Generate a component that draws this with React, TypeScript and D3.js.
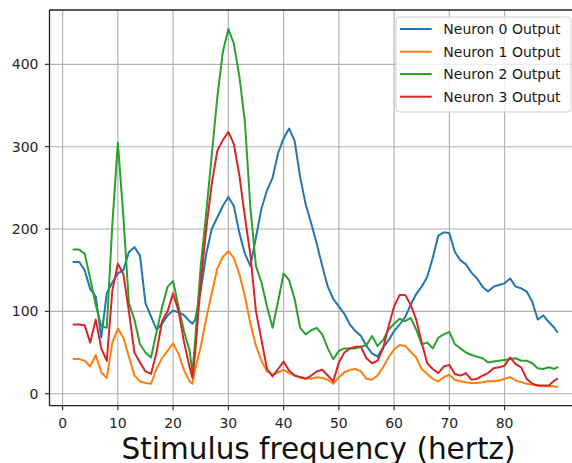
import React from "react";
import * as d3 from "d3";

// Stimulus frequencies (Hz) at which the neuron outputs were sampled
const freqs = [
  2, 3, 4, 5, 6, 7, 8, 9, 10, 11, 12, 13, 14, 15, 16, 17, 18, 19, 20, 21, 22, 23, 23.5,
  24, 25, 26, 27, 28, 29, 30, 31, 32, 33, 34, 35, 36, 37, 38, 39, 40, 41, 42, 43, 44,
  45, 46, 47, 48, 49, 50, 51, 52, 53, 54, 55, 56, 57, 58, 59, 60, 61, 62, 63, 64, 65,
  66, 67, 68, 69, 70, 71, 72, 73, 74, 75, 76, 77, 78, 79, 80, 81, 82, 83, 84, 85, 86,
  87, 88, 89, 89.5,
];

const neuron0 = [
  160, 160, 150, 127, 118, 68, 122, 135, 146, 150, 172, 178, 168, 110, 94, 78, 85, 95, 101, 99, 95, 88, 85,
  90, 125, 170, 200, 214, 228, 239, 228, 195, 170, 155, 190, 225, 247, 262, 292, 310, 322, 307, 263, 230,
  207, 182, 155, 130, 115, 106, 97, 84, 76, 70, 58, 49, 45, 56, 65, 76, 84, 93, 108, 121, 130,
  142, 165, 192, 196, 195, 172, 162, 157, 147, 140, 130, 124, 130, 132, 134, 140, 130, 128, 124, 112, 90,
  95, 87, 80, 75,
];

const neuron1 = [
  42, 42, 40, 33, 47, 26, 19, 62, 79, 68, 45, 22, 15, 13, 12, 30, 43, 52, 61, 48, 28, 15, 12,
  30, 57, 92, 122, 152, 166, 173, 165, 145, 118, 85, 58, 40, 27, 23, 26, 29, 25, 22, 20, 19,
  18, 20, 19, 17, 12, 20, 26, 29, 30, 27, 18, 17, 22, 32, 44, 54, 59, 58, 51, 44, 30,
  24, 18, 15, 20, 23, 17, 15, 14, 13, 13, 14, 15, 15, 16, 18, 20, 16, 14, 12, 11, 10,
  9, 9, 9, 8,
];

const neuron2 = [
  175, 175, 170, 140, 108, 82, 80, 205, 305, 215, 110, 90, 60, 50, 44, 75, 105, 130, 137, 105, 75, 52, 25,
  65, 155, 220, 290, 360, 415, 443, 425, 385, 330, 225, 155, 135, 106, 80, 112, 146, 138, 115, 80, 72,
  77, 80, 72, 55, 42, 52, 55, 55, 55, 57, 59, 70, 58, 65, 78, 85, 91, 88, 92, 78, 60,
  62, 55, 68, 72, 75, 60, 55, 50, 47, 45, 43, 38, 39, 40, 41, 42, 43, 40, 40, 37, 31,
  30, 32, 30, 32,
];

const neuron3 = [
  84, 84, 83, 62, 90, 55, 40, 125, 158, 145, 100, 50, 38, 27, 24, 50, 88, 100, 122, 100, 62, 32, 19,
  50, 135, 200, 255, 295, 308, 318, 303, 265, 215, 168, 100, 65, 30, 21, 30, 39, 28, 22, 20, 18,
  22, 27, 29, 22, 15, 38, 50, 55, 57, 57, 43, 37, 40, 55, 82, 106, 120, 120, 108, 90, 62,
  37, 30, 25, 33, 35, 24, 22, 25, 17, 18, 22, 25, 31, 32, 34, 44, 36, 32, 18, 12, 10,
  10, 10, 16, 18,
];

const seriesLabels = ["Neuron 0 Output", "Neuron 1 Output", "Neuron 2 Output", "Neuron 3 Output"];
const seriesValues = [neuron0, neuron1, neuron2, neuron3];
const seriesColors = ["#1f77b4", "#ff7f0e", "#2ca02c", "#d62728"];

const xTicks = [0, 10, 20, 30, 40, 50, 60, 70, 80];
const yTicks = [0, 100, 200, 300, 400];
const xLabel = "Stimulus frequency (hertz)";

const W = 572;
const H = 463;
const FONT = "'DejaVu Sans', sans-serif";

export default function App() {
  const left = 49.5;
  const right = 581.4;
  const top = 10;
  const bottom = 405.7;

  const x = d3.scaleLinear().domain([-2.37, 93.9]).range([left, right]);
  const y = d3.scaleLinear().domain([-14.6, 466]).range([bottom, top]);

  const line = d3
    .line<number>()
    .x((_, i) => x(freqs[i]))
    .y((d) => y(d));

  const legendX = 396;
  const legendY = 17;
  const rowY = [29, 51.7, 74, 96.7];

  return (
    <svg
      width={W}
      height={H}
      viewBox={`0 0 ${W} ${H}`}
      style={{ position: "absolute", left: 0, top: 0, background: "#fff" }}
      fontFamily={FONT}
    >
      <defs>
        <clipPath id="plot-area">
          <rect x={left} y={top} width={right - left} height={bottom - top} />
        </clipPath>
      </defs>
      <rect x={0} y={0} width={W} height={H} fill="#fff" />

      {/* grid */}
      <g stroke="#b0b0b0" strokeWidth={1.1}>
        {xTicks.map((t) => (
          <line key={`gx${t}`} x1={x(t)} x2={x(t)} y1={top} y2={bottom} />
        ))}
        {yTicks.map((t) => (
          <line key={`gy${t}`} x1={left} x2={right} y1={y(t)} y2={y(t)} />
        ))}
      </g>

      {/* series */}
      <g clipPath="url(#plot-area)" fill="none" strokeWidth={2} strokeLinejoin="round" strokeLinecap="square">
        {seriesValues.map((vals, i) => (
          <path key={seriesLabels[i]} d={line(vals) ?? ""} stroke={seriesColors[i]} />
        ))}
      </g>

      {/* spines */}
      <g stroke="#222" strokeWidth={1.3} fill="none">
        <line x1={left} x2={left} y1={top} y2={bottom} />
        <line x1={left} x2={right} y1={bottom} y2={bottom} />
        <line x1={left} x2={right} y1={top} y2={top} />
        <line x1={right} x2={right} y1={top} y2={bottom} />
      </g>

      {/* x axis ticks */}
      <g fill="#262626" fontSize={14} textAnchor="middle">
        {xTicks.map((t) => (
          <g key={`tx${t}`}>
            <line x1={x(t)} x2={x(t)} y1={bottom} y2={bottom + 4.5} stroke="#222" strokeWidth={1.1} />
            <text x={x(t)} y={427.8}>
              {t}
            </text>
          </g>
        ))}
      </g>

      {/* y axis ticks */}
      <g fill="#262626" fontSize={14} textAnchor="end">
        {yTicks.map((t) => (
          <g key={`ty${t}`}>
            <line x1={left - 4.5} x2={left} y1={y(t)} y2={y(t)} stroke="#222" strokeWidth={1.1} />
            <text x={left - 11} y={y(t) + 5}>
              {t}
            </text>
          </g>
        ))}
      </g>

      {/* x axis label */}
      <text x={318.5} y={459} fontSize={29.5} textAnchor="middle" fill="#111">
        {xLabel}
      </text>

      {/* legend */}
      <g>
        <rect
          x={legendX}
          y={legendY}
          width={175}
          height={95}
          rx={3.5}
          fill="#fff"
          fillOpacity={0.8}
          stroke="#d0d0d0"
          strokeWidth={1}
        />
        {seriesLabels.map((label, i) => (
          <g key={`lg${i}`}>
            <line
              x1={400}
              x2={431.7}
              y1={rowY[i]}
              y2={rowY[i]}
              stroke={seriesColors[i]}
              strokeWidth={2}
            />
            <text x={443.3} y={rowY[i] + 5} fontSize={14} fill="#1a1a1a">
              {label}
            </text>
          </g>
        ))}
      </g>
    </svg>
  );
}
